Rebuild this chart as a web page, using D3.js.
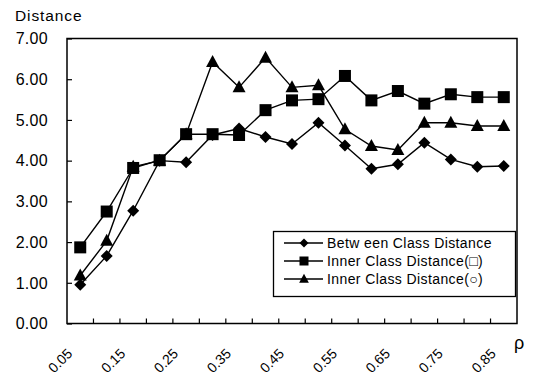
<!DOCTYPE html>
<html><head><meta charset="utf-8">
<script src="https://cdn.jsdelivr.net/npm/d3@7"></script>
<style>body{margin:0;background:#fff}svg{display:block}text{font-family:"Liberation Sans",Arial,sans-serif;fill:#000}</style>
</head><body><svg id="c" width="534" height="377"></svg>
<script>
const categories = ["0.05","0.10","0.15","0.20","0.25","0.30","0.35","0.40","0.45","0.50","0.55","0.60","0.65","0.70","0.75","0.80","0.85"];
const betweenClass = [0.95,1.66,2.77,4.00,3.96,4.63,4.79,4.58,4.41,4.93,4.37,3.80,3.91,4.44,4.03,3.85,3.87];
const innerSquare = [1.87,2.75,3.82,4.01,4.65,4.65,4.63,5.24,5.48,5.51,6.08,5.48,5.71,5.40,5.63,5.56,5.56];
const innerCircle = [1.18,2.03,3.85,4.00,4.65,6.42,5.80,6.53,5.80,5.85,4.77,4.36,4.26,4.93,4.93,4.85,4.85];
const yTicks = [0,1,2,3,4,5,6,7];
const xLabels = ["0.05","0.15","0.25","0.35","0.45","0.55","0.65","0.75","0.85"];
const seriesNames = ["Betw een Class Distance","Inner Class Distance(\u25A1)","Inner Class Distance(\u25CB)"];

const svg = d3.select("#c");
const L=67,R=517,T=38.5,B=323.5;
const x = d3.scaleBand().domain(categories).range([L,R]);
const y = d3.scaleLinear().domain([0,7]).range([B,T]);

// frame
svg.append("rect").attr("x",L).attr("y",T).attr("width",R-L).attr("height",B-T)
  .attr("fill","none").attr("stroke","#000").attr("stroke-width",1.5);

// y axis
const ya = svg.append("g").attr("transform",`translate(${L},0)`)
  .call(d3.axisRight(y).tickValues(yTicks).tickSize(5).tickFormat(""));
ya.select(".domain").remove();
ya.selectAll("line").attr("stroke","#000").attr("stroke-width",1.2);
svg.selectAll(".ylab").data(yTicks).join("text").attr("class","ylab")
  .attr("x",48).attr("y",d=>y(d)).attr("dy","0.36em").attr("text-anchor","end")
  .attr("font-size",16).attr("letter-spacing",0.3).text(d=>d3.format(".2f")(d));
svg.append("text").attr("x",15).attr("y",21).attr("font-size",15.5).attr("letter-spacing",0.9).text("Distance");

// x axis ticks (category boundaries)
const bounds = categories.slice(1).map(c=>x(c));
svg.selectAll(".xt").data(bounds).join("line").attr("class","xt")
  .attr("x1",d=>d).attr("x2",d=>d).attr("y1",B).attr("y2",B-5)
  .attr("stroke","#000").attr("stroke-width",1.2);
svg.selectAll(".xlab").data(xLabels).join("text").attr("class","xlab")
  .attr("transform",d=>`translate(${x(d)+x.bandwidth()/2-7},${B+31}) rotate(-45)`)
  .attr("text-anchor","end").attr("font-size",14).text(d=>d);
svg.append("text").attr("x",514).attr("y",349).attr("font-size",18).text("\u03C1");

const cx = d=>x(d)+x.bandwidth()/2;
const line = d3.line().x((d,i)=>cx(categories[i])).y(d=>y(d));
const data = [betweenClass, innerSquare, innerCircle];

function marker(g, k, px, py, scale){
  const s = scale||1;
  if(k===0){
    g.append("path").attr("d",`M${px},${py-6*s}L${px+6*s},${py}L${px},${py+6*s}L${px-6*s},${py}Z`).attr("fill","#000");
  } else if(k===1){
    g.append("rect").attr("x",px-6*s).attr("y",py-6*s).attr("width",12*s).attr("height",12*s).attr("fill","#000");
  } else {
    g.append("path").attr("d",`M${px},${py-7*s}L${px+6.5*s},${py+5*s}L${px-6.5*s},${py+5*s}Z`).attr("fill","#000");
  }
}

data.forEach((vals,k)=>{
  svg.append("path").datum(vals).attr("d",line).attr("fill","none").attr("stroke","#000").attr("stroke-width",1.4);
});
data.forEach((vals,k)=>{
  const g = svg.append("g");
  vals.forEach((v,i)=>marker(g,k,cx(categories[i]),y(v),1));
});

// legend
const lg = svg.append("g");
lg.append("rect").attr("x",273.5).attr("y",231.5).attr("width",242).attr("height",65)
  .attr("fill","#fff").attr("stroke","#000").attr("stroke-width",1.3);
const rows=[243,261,279];
seriesNames.forEach((n,k)=>{
  lg.append("line").attr("x1",284).attr("x2",323).attr("y1",rows[k]).attr("y2",rows[k]).attr("stroke","#000").attr("stroke-width",1.4);
  marker(lg,k,304,rows[k],0.75);
  lg.append("text").attr("x",327).attr("y",rows[k]).attr("dy","0.36em").attr("font-size",14).attr("letter-spacing",0.4).text(n);
});
</script></body></html>
